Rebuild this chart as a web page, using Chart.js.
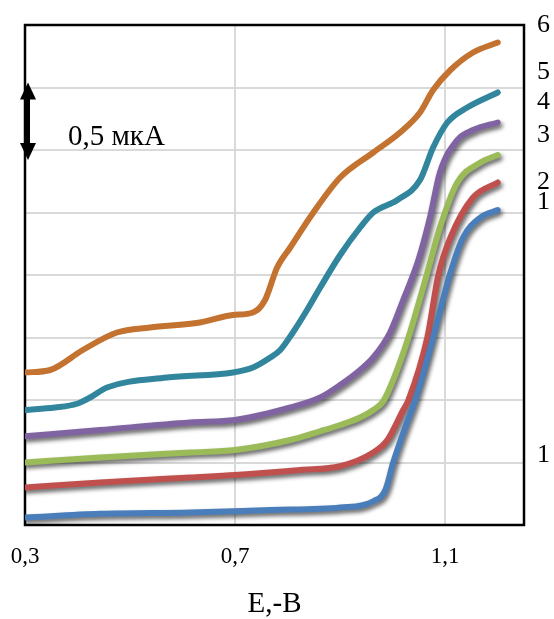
<!DOCTYPE html>
<html>
<head>
<meta charset="utf-8">
<script src="https://cdn.jsdelivr.net/npm/chart.js@4.4.0/dist/chart.umd.min.js"></script>
<style>
  html, body { margin: 0; padding: 0; background: #fff; }
</style>
</head>
<body>
<canvas id="grafico" width="554" height="619"></canvas>
<script>
// --- DATOS (E, В  /  I, мкА) ---
const e1 = [0.30, 0.443, 0.614, 0.767, 0.90, 0.963, 0.986, 1.001, 1.022, 1.043, 1.060, 1.077, 1.110, 1.134, 1.167, 1.20];
const i1 = [0.06, 0.09, 0.10, 0.12, 0.14, 0.19, 0.28, 0.50, 0.76, 1.00, 1.24, 1.50, 2.02, 2.30, 2.46, 2.52];

const e2 = [0.30, 0.443, 0.614, 0.70, 0.824, 0.90, 0.963, 0.990, 1.020, 1.030, 1.066, 1.087, 1.110, 1.153, 1.20];
const i2 = [0.30, 0.34, 0.38, 0.40, 0.44, 0.47, 0.58, 0.68, 0.92, 1.00, 1.50, 2.00, 2.30, 2.62, 2.74];

const e3 = [0.30, 0.443, 0.614, 0.70, 0.805, 0.862, 0.90, 0.938, 0.963, 0.982, 1.001, 1.030, 1.066, 1.090, 1.123, 1.167, 1.20];
const i3 = [0.50, 0.54, 0.58, 0.60, 0.68, 0.75, 0.80, 0.86, 0.92, 0.99, 1.16, 1.50, 2.02, 2.38, 2.74, 2.90, 2.96];

const e4 = [0.30, 0.443, 0.614, 0.70, 0.805, 0.862, 0.90, 0.938, 0.963, 0.995, 1.020, 1.049, 1.071, 1.090, 1.123, 1.153, 1.20];
const i4 = [0.71, 0.76, 0.82, 0.84, 0.94, 1.02, 1.12, 1.24, 1.34, 1.54, 1.80, 2.12, 2.46, 2.82, 3.08, 3.16, 3.22];

const e5 = [0.30, 0.357, 0.399, 0.424, 0.456, 0.570, 0.696, 0.734, 0.767, 0.786, 0.810, 0.837, 0.862, 0.90, 0.938, 0.963, 1.009, 1.052, 1.077, 1.104, 1.142, 1.20];
const i5 = [0.92, 0.94, 0.97, 1.02, 1.10, 1.18, 1.22, 1.26, 1.34, 1.40, 1.54, 1.72, 1.90, 2.16, 2.38, 2.50, 2.60, 2.76, 3.02, 3.22, 3.34, 3.46];

const e6 = [0.30, 0.348, 0.410, 0.475, 0.538, 0.633, 0.696, 0.734, 0.757, 0.780, 0.805, 0.849, 0.90, 0.963, 1.014, 1.052, 1.077, 1.110, 1.153, 1.20];
const i6 = [1.22, 1.24, 1.40, 1.54, 1.58, 1.62, 1.68, 1.70, 1.80, 2.06, 2.22, 2.50, 2.78, 2.98, 3.14, 3.30, 3.48, 3.64, 3.78, 3.86];

const xTicks = [0.3, 0.7, 1.1];
const xTitle = 'E,-B';
const rightLabels = ['6', '5', '4', '3', '2', '1', '1'];
const rightLabelLevels = [4.0, 3.62, 3.38, 3.12, 2.74, 2.58, 0.56];
const scaleBarText = '0,5 мкА';
const scaleBarFrom = 3.0;
const scaleBarTo = 3.5;

const colores = ['#4a7ebb', '#c0504d', '#9bbb59', '#8064a2', '#31859c', '#c3722f'];
const conSombra = [true, true, true, true, false, false];
const FUENTE = "'Liberation Serif', 'DejaVu Serif', serif";

const series = [[e1, i1], [e2, i2], [e3, i3], [e4, i4], [e5, i5], [e6, i6]];
const datasets = series.map(([e, i], k) => ({
    label: String(k + 1),
    data: e.map((x, j) => ({ x: x, y: i[j] })),
    borderColor: colores[k],
    borderWidth: 6,
    borderCapStyle: 'round',
    pointRadius: 0,
    cubicInterpolationMode: 'monotone',
    fill: false
}));

// sombra bajo las curvas 1-4
const pluginSombra = {
    id: 'sombra',
    beforeDatasetDraw(chart, args) {
        if (!conSombra[args.index]) return;
        const ctx = chart.ctx;
        ctx.save();
        ctx.shadowColor = 'rgba(0,0,0,0.6)';
        ctx.shadowBlur = 4;
        ctx.shadowOffsetX = 2;
        ctx.shadowOffsetY = 3;
    },
    afterDatasetDraw(chart, args) {
        if (!conSombra[args.index]) return;
        chart.ctx.restore();
    }
};

// marco, flecha de escala y numeros de curvas
const pluginExtras = {
    id: 'extras',
    beforeDatasetsDraw(chart) {
        const { ctx, chartArea: a } = chart;
        ctx.save();
        ctx.strokeStyle = '#000';
        ctx.lineWidth = 2.5;
        ctx.strokeRect(a.left, a.top, a.right - a.left, a.bottom - a.top);
        ctx.restore();
    },
    afterDatasetsDraw(chart) {
        const { ctx, chartArea: a, scales } = chart;
        const y = scales.y;
        ctx.save();
        // flecha doble
        const xa = a.left + 3;
        const y1 = y.getPixelForValue(scaleBarTo) - 5;
        const y2 = y.getPixelForValue(scaleBarFrom) + 10;
        ctx.fillStyle = '#000';
        ctx.fillRect(xa - 2, y1 + 10, 4, y2 - y1 - 20);
        ctx.beginPath();
        ctx.moveTo(xa, y1); ctx.lineTo(xa - 8, y1 + 17); ctx.lineTo(xa + 8, y1 + 17); ctx.closePath();
        ctx.fill();
        ctx.beginPath();
        ctx.moveTo(xa, y2); ctx.lineTo(xa - 8, y2 - 17); ctx.lineTo(xa + 8, y2 - 17); ctx.closePath();
        ctx.fill();

        ctx.font = '29px ' + FUENTE;
        ctx.textBaseline = 'alphabetic';
        ctx.textAlign = 'left';
        ctx.fillText(scaleBarText, 68, 145);

        ctx.font = '26px ' + FUENTE;
        ctx.textBaseline = 'middle';
        rightLabels.forEach((t, k) => {
            ctx.fillText(t, a.right + 13, y.getPixelForValue(rightLabelLevels[k]));
        });
        ctx.restore();
    }
};

new Chart(document.getElementById('grafico'), {
    type: 'line',
    data: { datasets: datasets },
    options: {
        responsive: false,
        animation: false,
        layout: { padding: { left: 25, top: 25, right: 30, bottom: 0 } },
        plugins: { legend: { display: false }, tooltip: { enabled: false } },
        scales: {
            x: {
                type: 'linear',
                min: 0.3,
                max: 1.25,
                afterBuildTicks: s => { s.ticks = xTicks.map(v => ({ value: v })); },
                afterFit: s => { s.height = 94; s.paddingLeft = 0; s.paddingRight = 0; },
                grid: { color: '#d9d9d9', lineWidth: 2, drawTicks: false },
                border: { display: false },
                ticks: {
                    padding: 20,
                    color: '#000',
                    font: { family: FUENTE, size: 23, lineHeight: 1 },
                    callback: v => v.toFixed(1).replace('.', ','),
                    maxRotation: 0
                },
                title: {
                    display: true,
                    text: xTitle,
                    color: '#000',
                    font: { family: FUENTE, size: 29, lineHeight: 1 },
                    padding: { top: 0, bottom: 0 }
                }
            },
            y: {
                min: 0,
                max: 4,
                afterFit: s => { s.width = 0; },
                ticks: { display: false, stepSize: 0.5 },
                grid: { color: '#d9d9d9', lineWidth: 2, drawTicks: false },
                border: { display: false }
            }
        }
    },
    plugins: [pluginSombra, pluginExtras]
});
</script>
</body>
</html>
